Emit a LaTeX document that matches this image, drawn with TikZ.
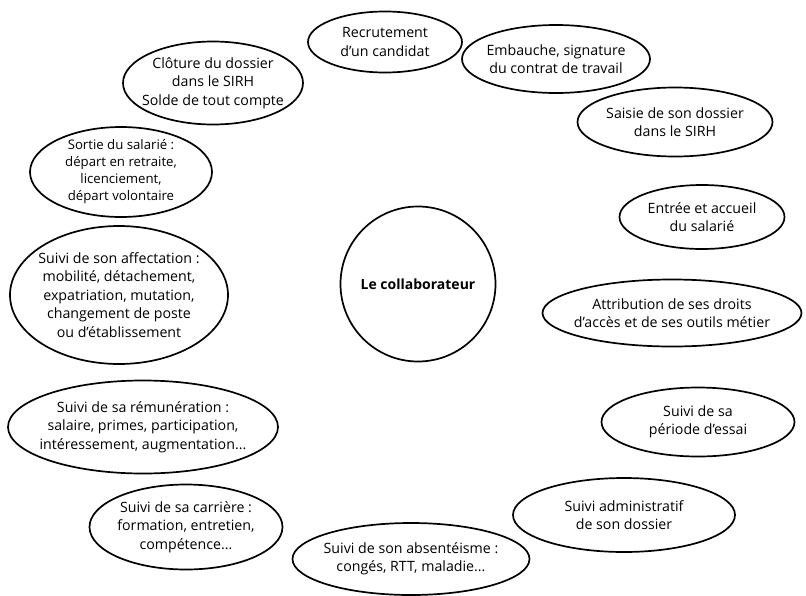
\documentclass[tikz,border=0pt]{standalone}
\usepackage{fontspec}
\setmainfont{Open Sans}
\usetikzlibrary{shapes.geometric}
\begin{document}
\begin{tikzpicture}[x=1pt,y=-1pt,
  txt/.style={inner sep=0pt,align=center,font=\fontsize{14.2}{18.5}\selectfont},
  smalltxt/.style={inner sep=0pt,align=center,font=\fontsize{13.2}{17}\selectfont},
  bub/.style={ellipse,draw=black,line width=1.7pt,inner sep=0pt},
  hub/.style={circle,draw=black,line width=1.7pt,inner sep=0pt,minimum size=155pt,
    font=\fontsize{14}{18}\selectfont\bfseries}]
\useasboundingbox (0,0) rectangle (806,595);
\node[hub] (c) at (418,284) {Le collaborateur};
\node[bub,minimum width=154pt,minimum height=61pt,label={[txt]center:{Recrutement\\d’un candidat}}] (rec) at (385,42) {};
\node[bub,minimum width=188pt,minimum height=68pt,label={[txt]center:{Embauche, signature\\du contrat de travail}}] (emb) at (556,59) {};
\node[bub,minimum width=195pt,minimum height=69pt,label={[txt]center:{Saisie de son dossier\\dans le SIRH}}] (sai) at (675,122) {};
\node[bub,minimum width=165pt,minimum height=64pt,label={[txt]center:{Entrée et accueil\\du salarié}}] (ent) at (702,217) {};
\node[bub,minimum width=259pt,minimum height=67pt,label={[txt]center:{Attribution de ses droits\\d’accès et de ses outils métier}}] (att) at (672,313) {};
\node[bub,minimum width=193pt,minimum height=69pt,label={[txt]center:{Suivi de sa\\période d’essai}}] (ess) at (698,422) {};
\node[bub,minimum width=222pt,minimum height=74pt,label={[txt]center:{Suivi administratif\\de son dossier}}] (adm) at (624,515) {};
\node[bub,minimum width=237pt,minimum height=72pt,label={[txt]center:{Suivi de son absentéisme :\\congés, RTT, maladie...}}] (abs) at (411,559) {};
\node[bub,minimum width=193pt,minimum height=85pt,label={[txt]center:{Suivi de sa carrière :\\formation, entretien,\\compétence...}}] (car) at (186,527) {};
\node[bub,minimum width=270pt,minimum height=93pt,label={[txt]center:{Suivi de sa rémunération :\\salaire, primes, participation,\\intéressement, augmentation...}}] (rem) at (143,427) {};
\node[bub,minimum width=218pt,minimum height=138pt,label={[txt]center:{Suivi de son affectation :\\mobilité, détachement,\\expatriation, mutation,\\changement de poste\\ou d’établissement}}] (aff) at (119,295) {};
\node[bub,minimum width=182pt,minimum height=90pt,label={[smalltxt]center:{Sortie du salarié :\\départ en retraite,\\licenciement,\\départ volontaire}}] (sor) at (121,172) {};
\node[bub,minimum width=180pt,minimum height=83pt,label={[txt]center:{Clôture du dossier\\dans le SIRH\\Solde de tout compte}}] (clo) at (213,83) {};
\end{tikzpicture}
\end{document}
